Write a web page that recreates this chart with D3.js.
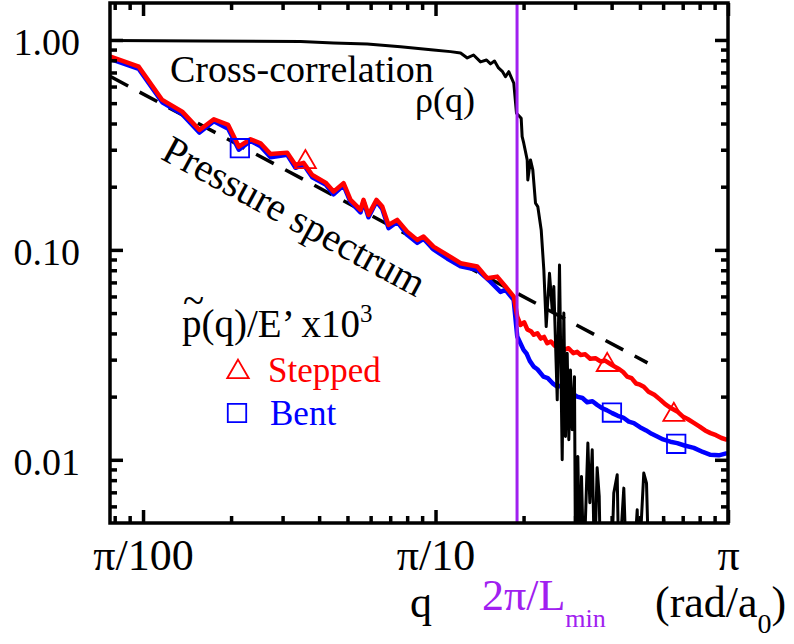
<!DOCTYPE html>
<html>
<head>
<meta charset="utf-8">
<script src="https://cdn.jsdelivr.net/npm/d3@7"></script>
<style>
  body { margin: 0; background: #fff; }
  svg { font-family: "Liberation Serif", "Times New Roman", serif; }
</style>
</head>
<body>
<svg width="794" height="644"></svg>
<script>
// q is given in units of pi (rad/a0), spectra are p(q)/E' x10^3
var qMajor = [0.01, 0.1, 1];
var qLabels = ["π/100", "π/10", "π"];
var qMinor = [0.008, 0.009, 0.02, 0.03, 0.04, 0.05, 0.06, 0.07, 0.08, 0.09,
              0.2, 0.3, 0.4, 0.5, 0.6, 0.7, 0.8, 0.9];
var pMajor = [1, 0.1, 0.01];
var pLabels = ["1.00", "0.10", "0.01"];
var pMinor = [0.006, 0.007, 0.008, 0.009, 0.02, 0.03, 0.04, 0.05, 0.06, 0.07, 0.08, 0.09,
              0.2, 0.3, 0.4, 0.5, 0.6, 0.7, 0.8, 0.9];
var qLmin = 0.19; // 2pi/Lmin

var steppedQ = [0.00774, 0.00967, 0.01163, 0.01361, 0.0156, 0.01746, 0.01955, 0.02126, 0.02331, 0.02522,
  0.02729, 0.03112, 0.0332, 0.03538, 0.0379, 0.04207, 0.04481, 0.04848, 0.05122, 0.05541,
  0.05673, 0.059, 0.06285, 0.06573, 0.06907, 0.07397, 0.08003, 0.08657, 0.091, 0.0984,
  0.1096, 0.1218, 0.1389, 0.1502, 0.1625, 0.1735, 0.1852, 0.1903, 0.1953, 0.201,
  0.206, 0.212, 0.2168, 0.223, 0.229, 0.235, 0.2409, 0.248, 0.256, 0.264,
  0.2746, 0.285, 0.296, 0.305, 0.3131, 0.325, 0.338, 0.352, 0.3665, 0.38,
  0.3965, 0.41, 0.425, 0.438, 0.4522, 0.468, 0.485, 0.5, 0.5153, 0.535,
  0.56, 0.5877, 0.61, 0.64, 0.6703, 0.7, 0.73, 0.7641, 0.8, 0.835,
  0.8714, 0.91, 0.95, 0.9938];
var steppedP = [0.833, 0.746, 0.518, 0.4556, 0.3727, 0.419, 0.3937, 0.3103, 0.3365, 0.322,
  0.2864, 0.2906, 0.254, 0.2597, 0.2275, 0.2092, 0.1895, 0.2078, 0.173, 0.155,
  0.173, 0.1468, 0.173, 0.1608, 0.1315, 0.139, 0.1222, 0.1116, 0.1157, 0.1037,
  0.0947, 0.0864, 0.0833, 0.0733, 0.0746, 0.0669, 0.0599, 0.0481, 0.0439, 0.0452,
  0.0418, 0.041, 0.0394, 0.0401, 0.0378, 0.0385, 0.0359, 0.0366, 0.0349, 0.0352,
  0.0334, 0.034, 0.0322, 0.0327, 0.0316, 0.0318, 0.0303, 0.0305, 0.0294, 0.0297,
  0.0286, 0.0278, 0.027, 0.0262, 0.0249, 0.0245, 0.0231, 0.0228, 0.0223, 0.0211,
  0.0204, 0.0193, 0.0184, 0.0176, 0.017, 0.0161, 0.0156, 0.015, 0.0144, 0.0138,
  0.0134, 0.0131, 0.0127, 0.01245];

var bentQ = [0.00774, 0.00967, 0.01163, 0.01361, 0.0156, 0.01746, 0.01955, 0.02126, 0.02331, 0.02522,
  0.02729, 0.03112, 0.0332, 0.03538, 0.0379, 0.04207, 0.04481, 0.04848, 0.05122, 0.05541,
  0.05673, 0.059, 0.06285, 0.06573, 0.06907, 0.07397, 0.08003, 0.08657, 0.091, 0.0984,
  0.1096, 0.1218, 0.1389, 0.1542, 0.1668, 0.1735, 0.185, 0.1903, 0.2, 0.205,
  0.21, 0.2165, 0.223, 0.2339, 0.242, 0.251, 0.2607, 0.27, 0.28, 0.292,
  0.305, 0.318, 0.33, 0.344, 0.357, 0.372, 0.386, 0.4018, 0.42, 0.438,
  0.458, 0.4764, 0.5, 0.525, 0.548, 0.5728, 0.6, 0.635, 0.6703, 0.71,
  0.764, 0.82, 0.8714, 0.93, 0.9938];
var bentP = [0.812, 0.728, 0.505, 0.443, 0.362, 0.41, 0.378, 0.3, 0.33, 0.312,
  0.276, 0.284, 0.246, 0.255, 0.222, 0.205, 0.184, 0.203, 0.169, 0.151,
  0.17, 0.143, 0.17, 0.157, 0.127, 0.136, 0.118, 0.108, 0.113, 0.1005,
  0.091, 0.0835, 0.0803, 0.0704, 0.0631, 0.0645, 0.0578, 0.0387, 0.0334, 0.032,
  0.0296, 0.0278, 0.027, 0.0249, 0.0245, 0.0232, 0.0223, 0.0226, 0.0213, 0.0208,
  0.02001, 0.0197, 0.0188, 0.019, 0.01827, 0.0176, 0.0172, 0.01669, 0.0162, 0.0159,
  0.0152, 0.01496, 0.0143, 0.0138, 0.0133, 0.01291, 0.0125, 0.0122, 0.01201, 0.0117,
  0.0114, 0.0109, 0.01056, 0.0105, 0.01076];

// markers every few points
var steppedMarkQ = [0.0359, 0.3864, 0.6527];
var steppedMarkP = [0.262, 0.0283, 0.01638];
var bentMarkQ = [0.02143, 0.401, 0.6652];
var bentMarkP = [0.305, 0.0168, 0.01192];

// cross-correlation rho(q); 0.003 means it dropped off the bottom
var rhoQ = [0.00774, 0.01573, 0.03456, 0.04481, 0.05841, 0.07592, 0.0984, 0.1125, 0.1218, 0.1284,
  0.1349, 0.1425, 0.1494, 0.1542, 0.1591, 0.1642, 0.1695, 0.1735, 0.178, 0.1852,
  0.1892, 0.1963, 0.1978, 0.2003, 0.2058, 0.2068, 0.2112, 0.2151, 0.2197, 0.2237,
  0.2298, 0.2346, 0.239, 0.2453, 0.2506, 0.2538, 0.2607, 0.2654, 0.2711, 0.2746,
  0.2782, 0.282, 0.2856, 0.2893, 0.2933, 0.2986, 0.301, 0.3066, 0.3114, 0.3156,
  0.3214, 0.3318, 0.337, 0.3434, 0.3497, 0.357, 0.3628, 0.3665, 0.3996, 0.4069,
  0.418, 0.4233, 0.4403, 0.4498, 0.4752, 0.4893, 0.4955, 0.5153, 0.5265, 0.5362,
  0.5877, 0.6032, 0.6113];
var rhoV = [0.9945, 0.989, 0.982, 0.9676, 0.957, 0.929, 0.896, 0.88, 0.867, 0.821,
  0.848, 0.786, 0.803, 0.769, 0.794, 0.736, 0.706, 0.669, 0.706, 0.622,
  0.4474, 0.4237, 0.3464, 0.3222, 0.2683, 0.2154, 0.2683, 0.2404, 0.1669, 0.1608,
  0.1245, 0.0803, 0.0431, 0.0774, 0.0518, 0.0669, 0.0193, 0.0848, 0.01, 0.05,
  0.01291, 0.0322, 0.01245, 0.0268, 0.0139, 0.0249, 0.003, 0.01037, 0.003, 0.00833,
  0.003, 0.01201, 0.00624, 0.01116, 0.003, 0.00916, 0.00669, 0.003, 0.003, 0.00694,
  0.00848, 0.003, 0.00733, 0.003, 0.003, 0.00578, 0.003, 0.00865, 0.00774, 0.003,
  0.003, 0.00518, 0.003];

// power-law guide
var fitQ = [0.00774, 0.5306];
var fitP = [0.669, 0.02897];

var svg = d3.select("svg"),
    plotL = 110, plotR = 728, plotT = 3, plotB = 523;

var x = d3.scaleLog().domain([0.00771, 1]).range([plotL, plotR]);
var y = d3.scaleLog().domain([0.005, 1.5]).range([plotB, plotT]);

svg.append("defs").append("clipPath").attr("id", "plotclip")
  .append("rect").attr("x", plotL).attr("y", plotT)
  .attr("width", plotR - plotL).attr("height", plotB - plotT);

var plot = svg.append("g").attr("clip-path", "url(#plotclip)");

function pairs(qs, vs) {
  return qs.map(function(q, i) { return [q, vs[i]]; });
}
var line = d3.line().x(function(d) { return x(d[0]); }).y(function(d) { return y(d[1]); });

plot.append("path").datum(pairs(fitQ, fitP))
  .attr("d", line).attr("fill", "none").attr("stroke", "#000")
  .attr("stroke-width", 3.5).attr("stroke-dasharray", "20,13");

plot.append("path").datum(pairs(bentQ, bentP))
  .attr("d", line).attr("fill", "none").attr("stroke", "#0000ff")
  .attr("stroke-width", 4.5).attr("stroke-linejoin", "round");

plot.append("path").datum(pairs(steppedQ, steppedP))
  .attr("d", line).attr("fill", "none").attr("stroke", "#ff0000")
  .attr("stroke-width", 4.5).attr("stroke-linejoin", "round");

plot.selectAll(".tri").data(pairs(steppedMarkQ, steppedMarkP)).enter()
  .append("path").attr("class", "tri")
  .attr("d", d3.symbol(d3.symbolTriangle, 190))
  .attr("transform", function(d) { return "translate(" + x(d[0]) + "," + y(d[1]) + ")"; })
  .attr("fill", "none").attr("stroke", "#ff0000").attr("stroke-width", 1.8);

plot.selectAll(".sq").data(pairs(bentMarkQ, bentMarkP)).enter()
  .append("path").attr("class", "sq")
  .attr("d", d3.symbol(d3.symbolSquare, 340))
  .attr("transform", function(d) { return "translate(" + x(d[0]) + "," + y(d[1]) + ")"; })
  .attr("fill", "none").attr("stroke", "#0000ff").attr("stroke-width", 1.8);

plot.append("path").datum(pairs(rhoQ, rhoV))
  .attr("d", line).attr("fill", "none").attr("stroke", "#000")
  .attr("stroke-width", 3).attr("stroke-linejoin", "round");

plot.append("line")
  .attr("x1", x(qLmin)).attr("x2", x(qLmin))
  .attr("y1", plotT).attr("y2", plotB)
  .attr("stroke", "#a020f0").attr("stroke-width", 3);

// axes, ticks all point inward
function styleAxis(g) {
  g.select(".domain").remove();
  g.selectAll(".tick line").attr("stroke", "#000").attr("stroke-width", 3.5);
}
svg.append("g").attr("transform", "translate(0," + plotB + ")")
  .call(d3.axisBottom(x).tickValues(qMinor).tickSizeInner(-7).tickFormat(""))
  .call(styleAxis);
svg.append("g").attr("transform", "translate(0," + plotT + ")")
  .call(d3.axisTop(x).tickValues(qMinor).tickSizeInner(-7).tickFormat(""))
  .call(styleAxis);
svg.append("g").attr("transform", "translate(0," + plotT + ")")
  .call(d3.axisTop(x).tickValues(qMajor).tickSizeInner(-13).tickFormat(""))
  .call(styleAxis);
svg.append("g").attr("transform", "translate(" + plotL + ",0)")
  .call(d3.axisLeft(y).tickValues(pMinor).tickSizeInner(-7).tickFormat(""))
  .call(styleAxis);
svg.append("g").attr("transform", "translate(" + plotR + ",0)")
  .call(d3.axisRight(y).tickValues(pMinor).tickSizeInner(-7).tickFormat(""))
  .call(styleAxis);
svg.append("g").attr("transform", "translate(" + plotR + ",0)")
  .call(d3.axisRight(y).tickValues(pMajor).tickSizeInner(-13).tickFormat(""))
  .call(styleAxis);

var xAxis = svg.append("g").attr("transform", "translate(0," + plotB + ")")
  .call(d3.axisBottom(x).tickValues(qMajor).tickSizeInner(-13).tickPadding(0)
    .tickFormat(function(d, i) { return qLabels[i]; }))
  .call(styleAxis);
xAxis.selectAll(".tick text")
  .attr("font-family", "Liberation Serif").attr("font-size", 44).attr("fill", "#000")
  .attr("dy", null).attr("y", 47);

var yAxis = svg.append("g").attr("transform", "translate(" + plotL + ",0)")
  .call(d3.axisLeft(y).tickValues(pMajor).tickSizeInner(-13).tickPadding(30)
    .tickFormat(function(d, i) { return pLabels[i]; }))
  .call(styleAxis);
yAxis.selectAll(".tick text")
  .attr("font-family", "Liberation Serif").attr("font-size", 38).attr("fill", "#000")
  .attr("dy", null).attr("y", 15);

svg.append("rect").attr("x", plotL).attr("y", plotT)
  .attr("width", plotR - plotL).attr("height", plotB - plotT)
  .attr("fill", "none").attr("stroke", "#000").attr("stroke-width", 3.5);

// annotations
svg.append("text").attr("x", 170).attr("y", 82).attr("font-size", 38).text("Cross-correlation");
svg.append("text").attr("x", 415).attr("y", 112).attr("font-size", 36).text("ρ(q)");
svg.append("text").attr("text-anchor", "middle").attr("font-size", 40)
  .attr("transform", "translate(288,228) rotate(28.5)").text("Pressure spectrum");

// tilde sits over the p, same text element
svg.append("text").attr("font-size", 39)
  .html('<tspan x="183" y="314">~</tspan><tspan x="182" y="337">p(q)/E’ x10</tspan>' +
        '<tspan dy="-15" font-size="25">3</tspan>');

svg.append("path").attr("d", d3.symbol(d3.symbolTriangle, 200))
  .attr("transform", "translate(238,372)")
  .attr("fill", "none").attr("stroke", "#ff0000").attr("stroke-width", 1.8);
svg.append("text").attr("x", 268).attr("y", 382).attr("font-size", 35)
  .attr("fill", "#ff0000").text("Stepped");
svg.append("path").attr("d", d3.symbol(d3.symbolSquare, 340))
  .attr("transform", "translate(237,413)")
  .attr("fill", "none").attr("stroke", "#0000ff").attr("stroke-width", 1.8);
svg.append("text").attr("x", 270).attr("y", 425).attr("font-size", 35)
  .attr("fill", "#0000ff").text("Bent");

svg.append("text").attr("x", 410).attr("y", 617).attr("font-size", 44).text("q");
svg.append("text").attr("x", 482).attr("y", 610).attr("font-size", 44).attr("fill", "#a020f0")
  .html('2π/L<tspan dy="17" font-size="26">min</tspan>');
svg.append("text").attr("x", 655).attr("y", 617).attr("font-size", 44)
  .html('(rad/a<tspan dy="16" font-size="28">0</tspan><tspan dy="-16">)</tspan>');
</script>
</body>
</html>
